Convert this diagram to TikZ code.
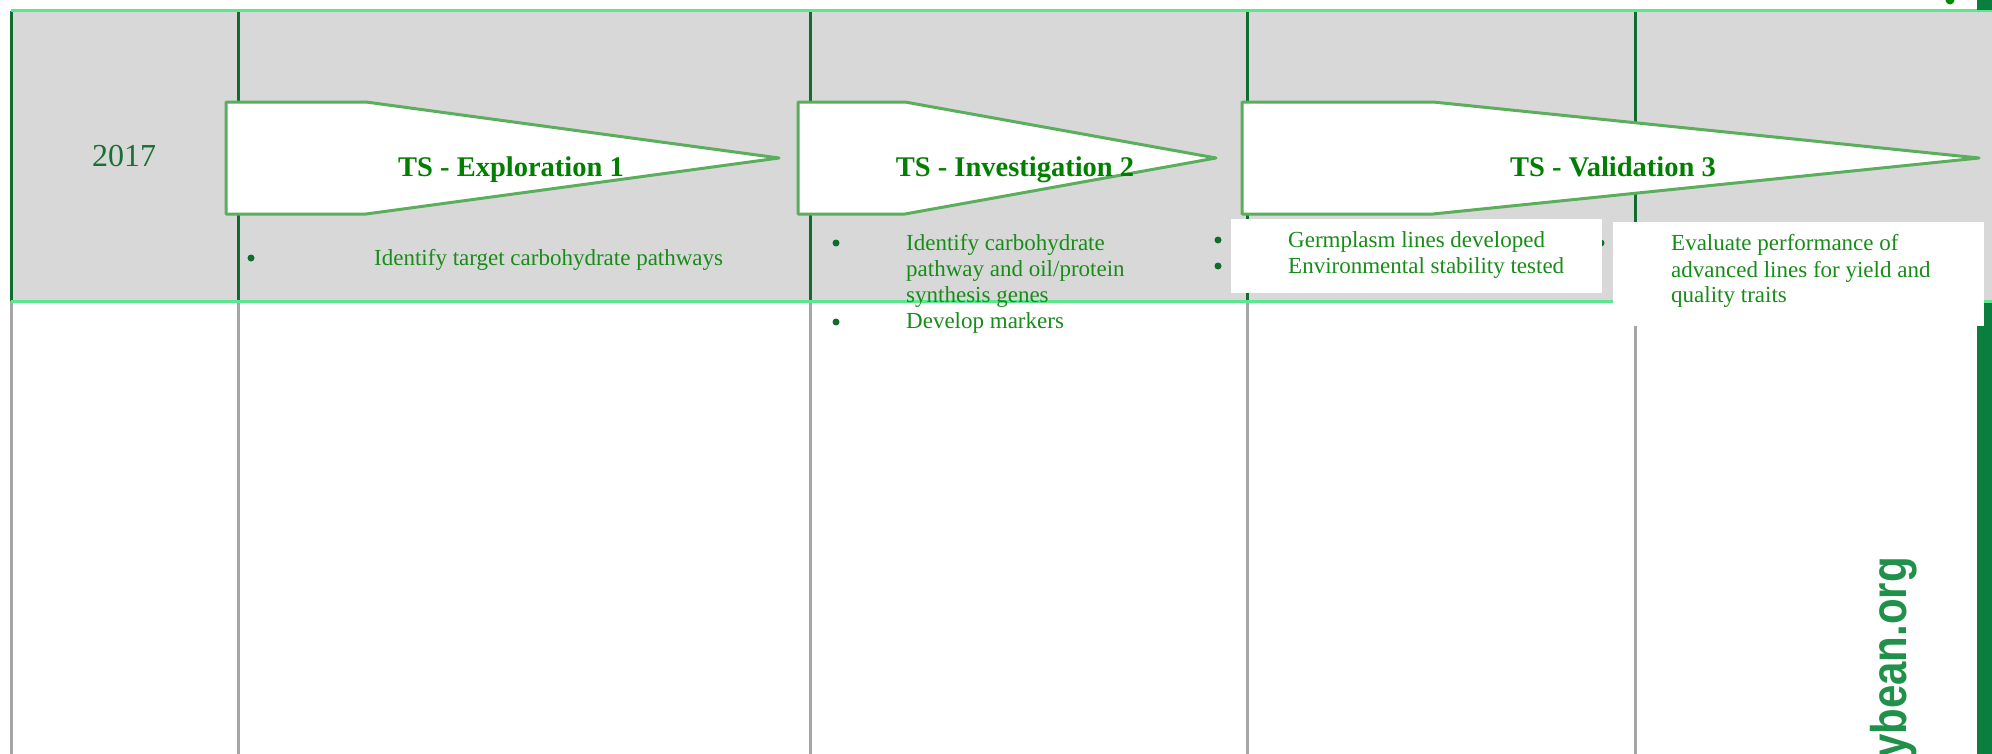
\documentclass[tikz,border=0pt]{standalone}
\usepackage{fontspec}
\setmainfont{Liberation Serif}
\newfontfamily\urlfont{Liberation Sans}
\definecolor{bandgray}{HTML}{D8D8D8}
\definecolor{rulegreen}{HTML}{5BE88C}
\definecolor{gridgreen}{HTML}{0F6E2E}
\definecolor{gridgray}{HTML}{A6A6A6}
\definecolor{arrowgreen}{HTML}{5AAE5C}
\definecolor{titlegreen}{HTML}{007F00}
\definecolor{itemgreen}{HTML}{188C18}
\definecolor{dotgreen}{HTML}{0F6E2E}
\definecolor{bargreen}{HTML}{0A7E3E}
\definecolor{yeargreen}{HTML}{187034}
\definecolor{urlgreen}{HTML}{20904A}
\tikzset{
  phase/.style={draw=arrowgreen, fill=white, line width=3bp, line join=round},
  phasetitle/.style={font=\fontsize{28.5bp}{34bp}\selectfont\bfseries, text=titlegreen, inner sep=0pt, anchor=base},
  itemline/.style={font=\fontsize{23bp}{26bp}\selectfont, text=itemgreen, inner sep=0pt, anchor=base west},
  bulletdot/.style={circle, fill=dotgreen, inner sep=0pt, minimum size=7bp},
  gridtop/.style={draw=gridgreen, line width=3bp},
  gridlow/.style={draw=gridgray, line width=3bp},
  hrule/.style={draw=rulegreen, line width=3bp},
  notebox/.style={fill=white},
}
\begin{document}
\begin{tikzpicture}[x=1bp, y=-1bp]
\useasboundingbox (0,0) rectangle (1992,754);
\clip (0,0) rectangle (1992,754);
\fill[white] (0,0) rectangle (1992,754);

% grey header band
\fill[bandgray] (11,11) rectangle (1992,301);

% column separators: dark green inside the band, grey below it
\foreach \cx in {11.5,238,810,1247,1635}{
  \draw[gridtop] (\cx,11) -- (\cx,301);
  \draw[gridlow] (\cx,301) -- (\cx,754);
}

% band edges
\draw[hrule] (11,11) -- (1992,11);
\draw[hrule] (11,301) -- (1992,301);

% green bar on the right margin
\fill[bargreen] (1977,0) rectangle (1992,10);
\fill[bargreen] (1977,303) rectangle (1992,754);
\fill[green!55!black] (1950,0) circle (4.5);

% phase arrows
\draw[phase] (226,102) -- (366,102) -- (779,158) -- (366,214) -- (226,214) -- cycle;
\draw[phase] (798,102) -- (905,102) -- (1216,158) -- (905,214) -- (798,214) -- cycle;
\draw[phase] (1242,102) -- (1433,102) -- (1979,158) -- (1433,214) -- (1242,214) -- cycle;

\node[phasetitle] (t1) at (511,176) {TS - Exploration 1};
\node[phasetitle] (t2) at (1015,176) {TS - Investigation 2};
\node[phasetitle] (t3) at (1613,176) {TS - Validation 3};

\node[font=\fontsize{32bp}{38bp}\selectfont, text=yeargreen, inner sep=0pt, anchor=base] (year) at (124,166) {2017};

% column 1
\node[bulletdot] (b1) at (251,258) {};
\node[itemline] (c1a) at (374,265) {Identify target carbohydrate pathways};

% column 2
\node[bulletdot] (b2a) at (836,243) {};
\node[bulletdot] (b2b) at (836,322) {};
\node[itemline] (c2a) at (906,250) {Identify carbohydrate};
\node[itemline] (c2b) at (906,276) {pathway and oil/protein};
\node[itemline] (c2c) at (906,302) {synthesis genes};
\node[itemline] (c2d) at (906,328) {Develop markers};

% column 4 bullet, mostly hidden under the column 3 box
\node[bulletdot] (b4) at (1601,243) {};

% white note boxes
\fill[notebox] (1231,219) rectangle (1602,293);
\fill[notebox] (1613,222) rectangle (1984,326);

% column 3
\node[bulletdot] (b3a) at (1218,240) {};
\node[bulletdot] (b3b) at (1218,266) {};
\node[itemline] (c3a) at (1288,247) {Germplasm lines developed};
\node[itemline] (c3b) at (1288,273) {Environmental stability tested};

% column 4
\node[itemline] (c4a) at (1671,250) {Evaluate performance of};
\node[itemline] (c4b) at (1671,277) {advanced lines for yield and};
\node[itemline] (c4c) at (1671,302) {quality traits};

% vertical web address
\node[rotate=90, anchor=base east, inner sep=0pt, text=urlgreen,
      font=\urlfont\bfseries\fontsize{50bp}{54bp}\selectfont] (url) at (1906,557)
      {\scalebox{0.84}[1]{ybean.org}};
\end{tikzpicture}
\end{document}
